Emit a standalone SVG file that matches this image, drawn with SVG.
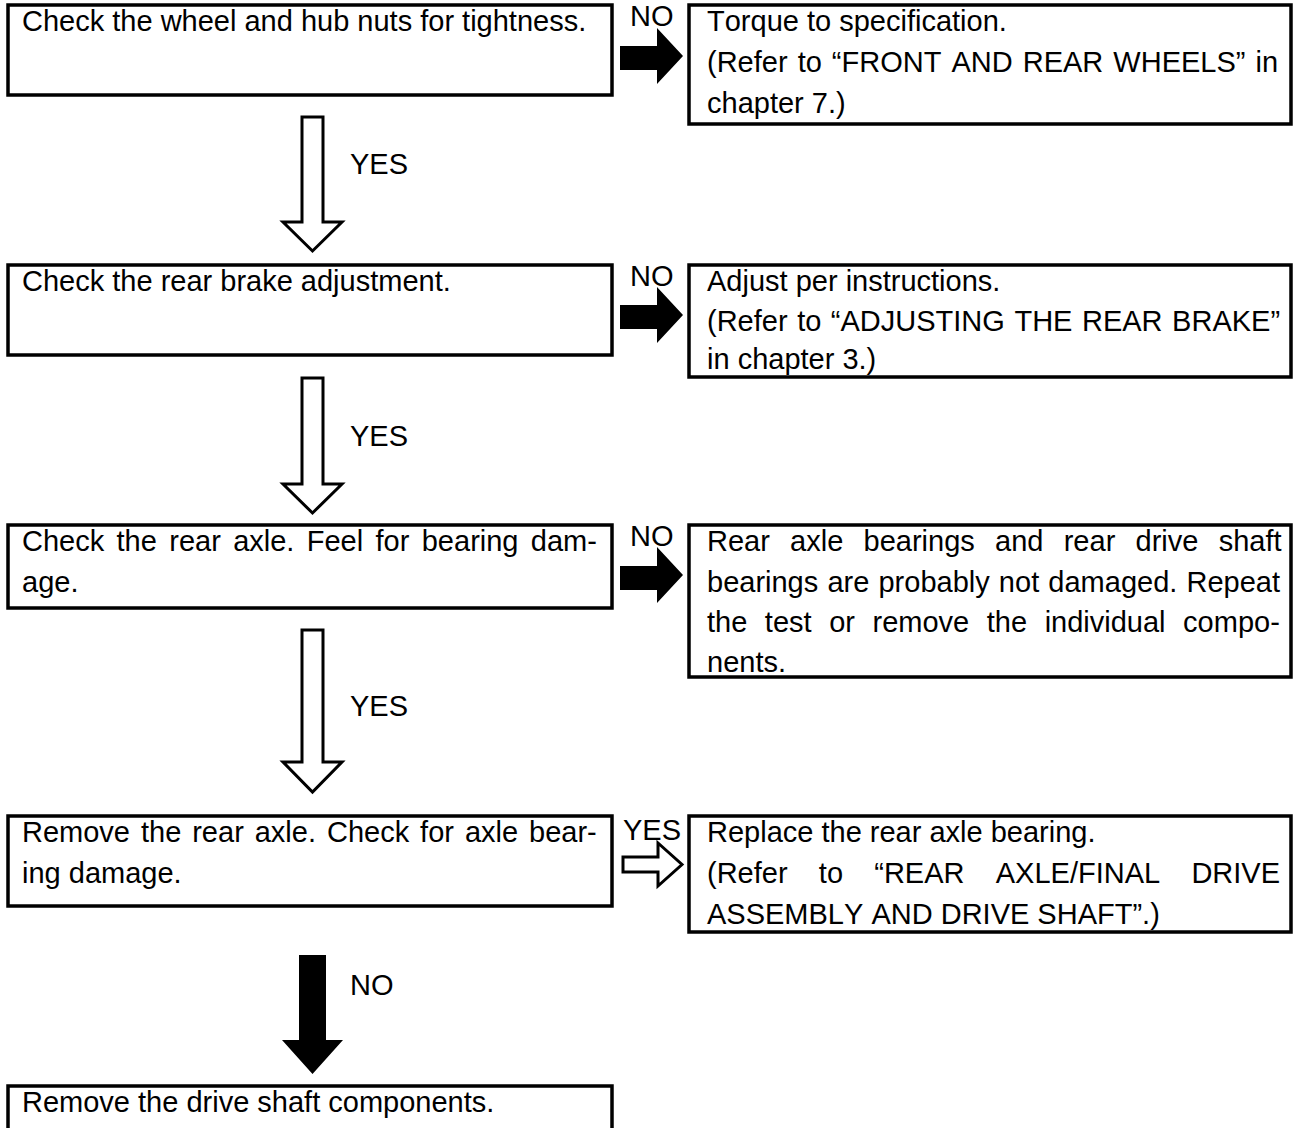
<svg xmlns="http://www.w3.org/2000/svg" width="1294" height="1128" viewBox="0 0 1294 1128">
  <style>
    .box { fill: #fff; stroke: #000; stroke-width: 3.5; }
    .t { font-family: "Liberation Sans", Arial, Helvetica, sans-serif; font-size: 29px; fill: #000; font-kerning: none; }
    .hollow { fill: #fff; stroke: #000; stroke-width: 3; stroke-linejoin: miter; }
    .solid { fill: #000; stroke: none; }
  </style>
  <rect width="1294" height="1128" fill="#fff"/>

  <!-- connectors -->
  <g id="connectors">
    <!-- step 1 -> torque (NO) -->
    <path class="solid" d="M620,46 H657 V28 L683,56 L657,84 V70 H620 Z"/>
    <text class="t" x="630" y="26">NO</text>
    <!-- step 1 -> step 2 (YES) -->
    <path class="hollow" d="M302,117 H323 V222 H342 L312.5,251 L283,222 H302 Z"/>
    <text class="t" x="350" y="174">YES</text>
    <!-- step 2 -> adjust (NO) -->
    <path class="solid" d="M620,305 H657 V287 L683,315 L657,343 V329 H620 Z"/>
    <text class="t" x="630" y="286">NO</text>
    <!-- step 2 -> step 3 (YES) -->
    <path class="hollow" d="M302,378 H323 V484 H342 L312.5,513 L283,484 H302 Z"/>
    <text class="t" x="350" y="446">YES</text>
    <!-- step 3 -> not damaged (NO) -->
    <path class="solid" d="M620,566 H657 V547 L683,575 L657,603 V590 H620 Z"/>
    <text class="t" x="630" y="546">NO</text>
    <!-- step 3 -> step 4 (YES) -->
    <path class="hollow" d="M302,630 H323 V762 H342 L312.5,792 L283,762 H302 Z"/>
    <text class="t" x="350" y="716">YES</text>
    <!-- step 4 -> replace bearing (YES) -->
    <path class="hollow" d="M623,857 H658 V843 L682,864.5 L658,886 V872 H623 Z"/>
    <text class="t" x="623" y="840">YES</text>
    <!-- step 4 -> step 5 (NO) -->
    <path class="solid" d="M299,955 H326 V1040 H343 L312.5,1074 L282,1040 H299 Z"/>
    <text class="t" x="350" y="995">NO</text>
  </g>

  <g id="step1">
    <rect class="box" x="8" y="5" width="604" height="90"/>
    <text class="t" x="22" y="31">Check the wheel and hub nuts for tightness.</text>
  </g>
  <g id="torque">
    <rect class="box" x="689" y="5" width="602" height="119"/>
    <text class="t" x="707" y="31">Torque to specification.</text>
    <text class="t" x="707" y="72" word-spacing="2">(Refer to “FRONT AND REAR WHEELS” in</text>
    <text class="t" x="707" y="113">chapter 7.)</text>
  </g>

  <g id="step2">
    <rect class="box" x="8" y="265" width="604" height="90"/>
    <text class="t" x="22" y="291">Check the rear brake adjustment.</text>
  </g>
  <g id="adjust">
    <rect class="box" x="689" y="265" width="602" height="112"/>
    <text class="t" x="707" y="291">Adjust per instructions.</text>
    <text class="t" x="707" y="331" word-spacing="1.5">(Refer to “ADJUSTING THE REAR BRAKE”</text>
    <text class="t" x="707" y="369">in chapter 3.)</text>
  </g>

  <g id="step3">
    <rect class="box" x="8" y="525" width="604" height="83"/>
    <text class="t" x="22" y="551" word-spacing="4.3">Check the rear axle. Feel for bearing dam-</text>
    <text class="t" x="22" y="592">age.</text>
  </g>
  <g id="not-damaged">
    <rect class="box" x="689" y="525" width="602" height="152"/>
    <text class="t" x="707" y="551" word-spacing="12.2">Rear axle bearings and rear drive shaft</text>
    <text class="t" x="707" y="592" word-spacing="1.1">bearings are probably not damaged. Repeat</text>
    <text class="t" x="707" y="632" word-spacing="9.5">the test or remove the individual compo-</text>
    <text class="t" x="707" y="672">nents.</text>
  </g>

  <g id="step4">
    <rect class="box" x="8" y="816" width="604" height="90"/>
    <text class="t" x="22" y="842" word-spacing="2.9">Remove the rear axle. Check for axle bear-</text>
    <text class="t" x="22" y="883">ing damage.</text>
  </g>
  <g id="replace">
    <rect class="box" x="689" y="816" width="602" height="116"/>
    <text class="t" x="707" y="842">Replace the rear axle bearing.</text>
    <text class="t" x="707" y="883" word-spacing="23.2">(Refer to “REAR AXLE/FINAL DRIVE</text>
    <text class="t" x="707" y="924">ASSEMBLY AND DRIVE SHAFT”.)</text>
  </g>

  <g id="step5">
    <rect class="box" x="8" y="1086" width="604" height="90"/>
    <text class="t" x="22" y="1112">Remove the drive shaft components.</text>
  </g>
</svg>
